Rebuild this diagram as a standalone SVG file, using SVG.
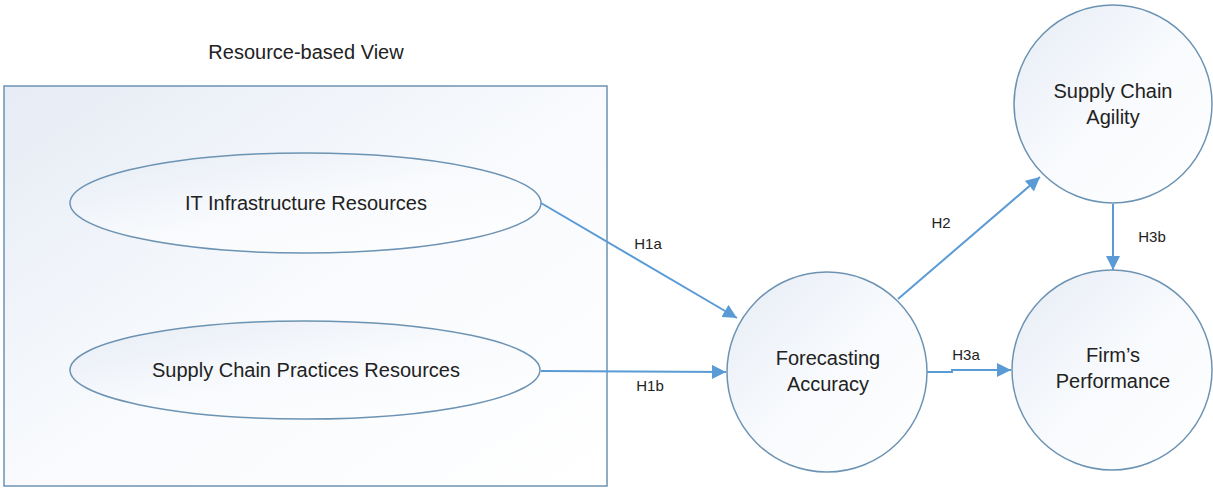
<svg xmlns="http://www.w3.org/2000/svg" width="1213" height="489" viewBox="0 0 1213 489">
<style>
.shape{stroke:#6d93b3;stroke-width:1.5}
.lbl{font-family:"Liberation Sans",Arial,sans-serif;font-size:20px;fill:#222;text-anchor:middle}
.hl{font-family:"Liberation Sans",Arial,sans-serif;font-size:15px;fill:#222;text-anchor:middle}
.conn{stroke:#5b9bd5;stroke-width:2;fill:none;marker-end:url(#ah)}
</style>
<defs>
<linearGradient id="g" x1="0" y1="0" x2="1" y2="1">
<stop offset="0" stop-color="#e6ecf5"/>
<stop offset="0.5" stop-color="#f8fafd"/>
<stop offset="1" stop-color="#ffffff"/>
</linearGradient>
<marker id="ah" viewBox="0 0 10 10" refX="10" refY="5" markerWidth="7" markerHeight="7" orient="auto" markerUnits="strokeWidth">
<path d="M0,0 L10,5 L0,10 z" fill="#5b9bd5"/>
</marker>
</defs>
<rect width="1213" height="489" fill="#fff"/>
<text class="lbl" x="306" y="59">Resource-based View</text>
<g id="rbv"><rect class="shape" x="4" y="86" width="603" height="400" fill="url(#g)"/></g>
<g id="it"><ellipse class="shape" cx="305.5" cy="203" rx="235.5" ry="50" fill="url(#g)"/><text class="lbl" x="306" y="210">IT Infrastructure Resources</text></g>
<g id="scp"><ellipse class="shape" cx="305" cy="370" rx="235" ry="49" fill="url(#g)"/><text class="lbl" x="306" y="377">Supply Chain Practices Resources</text></g>
<g id="fa"><circle class="shape" cx="827" cy="372" r="100" fill="url(#g)"/><text class="lbl" x="828" y="365">Forecasting</text><text class="lbl" x="828" y="391">Accuracy</text></g>
<g id="sca"><circle class="shape" cx="1113" cy="104" r="99" fill="url(#g)"/><text class="lbl" x="1113" y="98">Supply Chain</text><text class="lbl" x="1113" y="124">Agility</text></g>
<g id="fp"><circle class="shape" cx="1112" cy="370" r="100" fill="url(#g)"/><text class="lbl" x="1113" y="362">Firm’s</text><text class="lbl" x="1113" y="388">Performance</text></g>
<g id="connectors">
<path class="conn" d="M541,203 L737,318"/>
<path class="conn" d="M541,371 L726,372"/>
<path class="conn" d="M898,299 L1040,177"/>
<path class="conn" d="M927,372 L952,372 L952,370 L1011,370"/>
<path class="conn" d="M1113,204 L1113,270"/>
</g>
<text class="hl" x="648" y="249">H1a</text>
<text class="hl" x="650" y="391">H1b</text>
<text class="hl" x="941" y="228">H2</text>
<text class="hl" x="966" y="360">H3a</text>
<text class="hl" x="1152" y="242">H3b</text>
</svg>
